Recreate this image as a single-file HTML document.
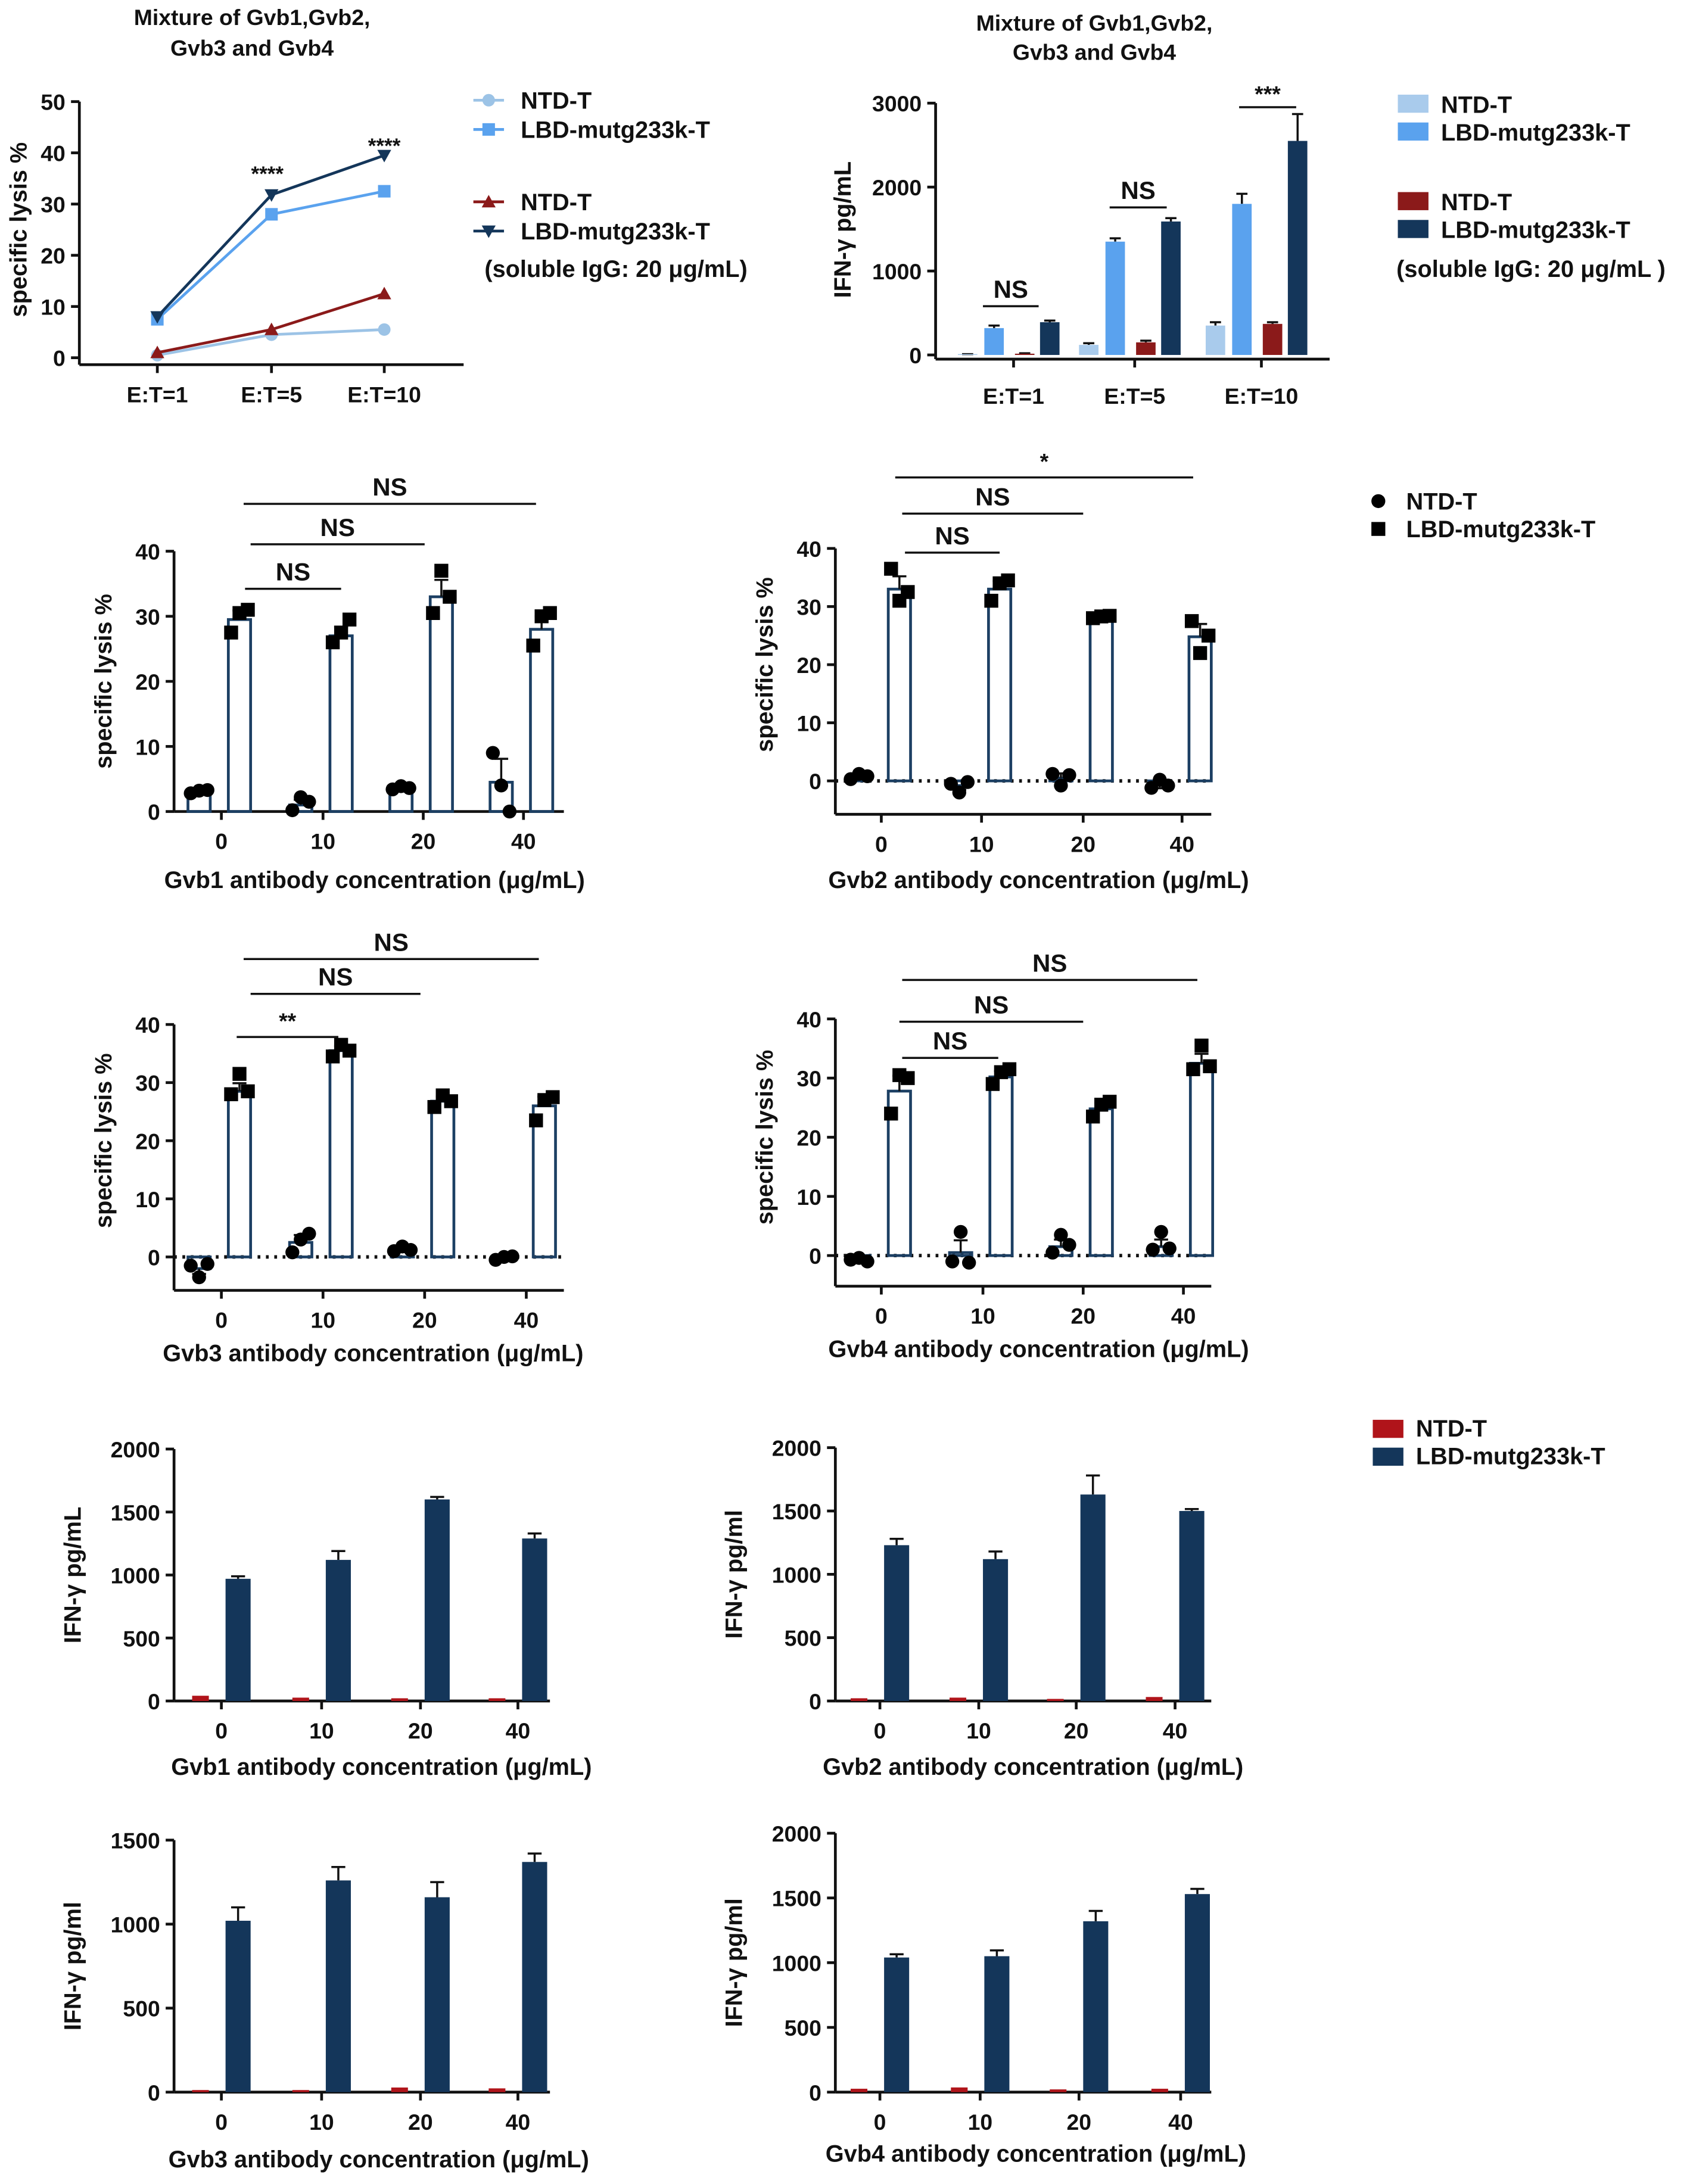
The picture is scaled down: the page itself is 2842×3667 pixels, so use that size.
<!DOCTYPE html>
<html><head><meta charset="utf-8"><style>
html,body{margin:0;padding:0;background:#fff}
svg{display:block}
text{font-family:"Liberation Sans",Arial,sans-serif;font-weight:bold;fill:#111}
</style></head><body>
<svg id="fig" width="2842" height="3667" viewBox="0 0 1216 1569" xmlns="http://www.w3.org/2000/svg"></svg>
<script>
// ---- Panel A: line chart data ----
const aCats = ['E:T=1','E:T=5','E:T=10'];
const aNtd = [0.5, 4.5, 5.5];
const aLbd = [7.5, 28, 32.5];
const aNtdIgG = [1, 5.5, 12.5];
const aLbdIgG = [8, 31.8, 39.5];
const aTicks = [0,10,20,30,40,50];
// ---- Panel B: bar chart data ----
const bCats = ['E:T=1','E:T=5','E:T=10'];
const bNtd = [10, 120, 350];
const bLbd = [320, 1350, 1800];
const bNtdIgG = [15, 150, 370];
const bLbdIgG = [390, 1590, 2550];
const bErrNtd = [0, 20, 40];
const bErrLbd = [30, 40, 120];
const bErrNtdIgG = [5, 20, 20];
const bErrLbdIgG = [20, 40, 320];
const bTicks = [0,1000,2000,3000];
// ---- Scatter bar panels ----
const sCats = ['0','10','20','40'];
const sTicks = [0,10,20,30,40];
const c1Ntd = [3, 1, 3.5, 4.5];
const c1Lbd = [29.5, 27, 33, 28];
const c1NtdPts = [[2.8,3.2,3.3],[0.2,2.2,1.5],[3.4,3.9,3.6],[9,4,0]];
const c1LbdPts = [[27.5,30.5,31],[26,27.5,29.5],[30.5,37,33],[25.5,30,30.5]];
const c2Ntd = [0.8, -0.8, 0.5, -0.7];
const c2Lbd = [33, 33, 28.3, 24.8];
const c2NtdPts = [[0.3,1.2,0.8],[-0.5,-2,-0.2],[1.2,-0.8,1],[-1.2,0.2,-0.8]];
const c2LbdPts = [[36.5,31,32.5],[31,34,34.5],[28,28.3,28.4],[27.5,22,25]];
const c3Ntd = [-2, 2.5, 1, -0.2];
const c3Lbd = [28.5, 35.5, 26.8, 26];
const c3NtdPts = [[-1.5,-3.5,-1.2],[0.8,3,4],[1,1.8,1.2],[-0.5,0,0.1]];
const c3LbdPts = [[28,31.5,28.5],[34.5,36.5,35.5],[25.8,27.8,26.8],[23.5,27,27.5]];
const c4Ntd = [-0.8, 0.5, 1.5, 1.5];
const c4Lbd = [27.8, 30.2, 24.8, 32.5];
const c4NtdPts = [[-0.7,-0.4,-1],[-1,4,-1.2],[0.5,3.5,1.8],[1,4,1.2]];
const c4LbdPts = [[24,30.5,30],[29,31,31.5],[23.5,25.5,26],[31.5,35.5,32]];
// ---- IFN panels ----
const dNtd1 = [25, 10, 5, 5];
const dLbd1 = [970, 1120, 1600, 1290];
const dErr1 = [20, 70, 20, 40];
const dNtd2 = [5, 10, 0, 15];
const dLbd2 = [1230, 1120, 1630, 1500];
const dErr2 = [50, 60, 150, 15];
const dNtd3 = [0, 0, 15, 10];
const dLbd3 = [1020, 1260, 1160, 1370];
const dErr3 = [80, 80, 90, 50];
const dNtd4 = [10, 20, 5, 10];
const dLbd4 = [1040, 1050, 1320, 1530];
const dErr4 = [25, 45, 80, 40];
const dTicks2000 = [0,500,1000,1500,2000];
const dTicks1500 = [0,500,1000,1500];

const NS='http://www.w3.org/2000/svg';
const svg=document.getElementById('fig');
function mk(tag, attrs, parent){const e=document.createElementNS(NS,tag);for(const k in attrs)e.setAttribute(k,attrs[k]);(parent||svg).appendChild(e);return e;}
function txt(x,y,s,size,anchor,parent,rot){const t=mk('text',{x:x,y:y,'font-size':size,'text-anchor':anchor||'middle'},parent);if(rot)t.setAttribute('transform','rotate(-90 '+x+' '+y+')');t.textContent=s;return t;}
const AX='#111';
function yAxis(g,x,ticks,fy,yBottom){
  const top=fy(ticks[ticks.length-1]);
  const l=mk('line',{x1:x,y1:top,x2:x,y2:yBottom,stroke:AX,'stroke-width':2},g);
  
  
  ticks.forEach(v=>{const y=fy(v);mk('line',{x1:x-6,y1:y,x2:x,y2:y,stroke:AX,'stroke-width':2},g);
    const t=txt(x-10,y+6,String(v),16,'end',g);
    
    });
}
function xAxis(g,x1,x2,y,cats,fx,labY){
  const l=mk('line',{x1:x1,y1:y,x2:x2,y2:y,stroke:AX,'stroke-width':2},g);
  
  
  cats.forEach((c,i)=>{const x=fx(i);mk('line',{x1:x,y1:y,x2:x,y2:y+6,stroke:AX,'stroke-width':2},g);
    const t=txt(x,labY,c,16,'middle',g);
    
    });
}
function grp(name){const g=mk('g',{});return g;}
function errBar(g,x,yTop,yErr,w){mk('line',{x1:x,y1:yTop,x2:x,y2:yErr,stroke:AX,'stroke-width':1.5},g);mk('line',{x1:x-w,y1:yErr,x2:x+w,y2:yErr,stroke:AX,'stroke-width':1.5},g);}
function sig(g,x1,x2,y,label,ty){const l=mk('line',{x1:x1,y1:y,x2:x2,y2:y,stroke:AX,'stroke-width':1.5},g);
  
  
  const t=txt((x1+x2)/2,ty,label,label==='NS'?18:16,'middle',g);
  
  }

// ===== Panel A =====
(function(){
  const g=grp('panel-a-lysis-line-chart');
  const fy=v=>257-v*3.68; const fx=i=>[113,195,276][i];
  txt(181,18,'Mixture of Gvb1,Gvb2,',16,'middle',g);
  txt(181,40,'Gvb3 and Gvb4',16,'middle',g);
  yAxis(g,57,aTicks,fy,262);
  xAxis(g,57,333,262,aCats,fx,289);
  const yl=txt(19,165,'specific lysis %',17,'middle',g,true);
  
  
  const series=[[aNtd,'#9cc3e6','circle'],[aLbd,'#5aa2ee','square'],[aNtdIgG,'#8b1a1a','tri'],[aLbdIgG,'#14365a','tridown']];
  series.forEach(s=>{
    const pts=s[0].map((v,i)=>fx(i)+','+fy(v)).join(' ');
    const pl=mk('polyline',{points:pts,fill:'none',stroke:s[1],'stroke-width':2},g);
    
    
    s[0].forEach((v,i)=>{const x=fx(i),y=fy(v);let m;
      if(s[2]==='circle')m=mk('circle',{cx:x,cy:y,r:4.5,fill:s[1]},g);
      else if(s[2]==='square')m=mk('rect',{x:x-4.5,y:y-4.5,width:9,height:9,fill:s[1]},g);
      else if(s[2]==='tri')m=mk('polygon',{points:`${x},${y-5} ${x-5},${y+4} ${x+5},${y+4}`,fill:s[1]},g);
      else m=mk('polygon',{points:`${x},${y+5} ${x-5},${y-4} ${x+5},${y-4}`,fill:s[1]},g);
      
      });
  });
  txt(192,130,'****',15,'middle',g);txt(276,110,'****',15,'middle',g);
  const lg=grp('legend-a');
  mk('line',{x1:340,y1:72,x2:362,y2:72,stroke:'#9cc3e6','stroke-width':2},lg);mk('circle',{cx:351,cy:72,r:4.5,fill:'#9cc3e6'},lg);
  mk('line',{x1:340,y1:93,x2:362,y2:93,stroke:'#5aa2ee','stroke-width':2},lg);mk('rect',{x:346.5,y:88.5,width:9,height:9,fill:'#5aa2ee'},lg);
  mk('line',{x1:340,y1:145,x2:362,y2:145,stroke:'#8b1a1a','stroke-width':2},lg);mk('polygon',{points:'351,140 346,149 356,149',fill:'#8b1a1a'},lg);
  mk('line',{x1:340,y1:166,x2:362,y2:166,stroke:'#14365a','stroke-width':2},lg);mk('polygon',{points:'351,171 346,162 356,162',fill:'#14365a'},lg);
  txt(374,78,'NTD-T',17,'start',lg);txt(374,99,'LBD-mutg233k-T',17,'start',lg);
  txt(374,151,'NTD-T',17,'start',lg);txt(374,172,'LBD-mutg233k-T',17,'start',lg);
  txt(348,199,'(soluble IgG: 20 μg/mL)',17,'start',lg);
})();

// ===== Panel B =====
(function(){
  const g=grp('panel-b-ifn-bar-chart');
  const fy=v=>255-v*0.0603; const fx=i=>[728,815,906][i];
  txt(786,22,'Mixture of Gvb1,Gvb2,',16,'middle',g);
  txt(786,43,'Gvb3 and Gvb4',16,'middle',g);
  yAxis(g,672,bTicks,fy,258);
  xAxis(g,672,955,258,bCats,fx,290);
  const yl=txt(611,165,'IFN-γ pg/mL',17,'middle',g,true);
  
  
  const series=[bNtd,bLbd,bNtdIgG,bLbdIgG];
  const errs=[bErrNtd,bErrLbd,bErrNtdIgG,bErrLbdIgG];
  const cols=['#a9cbec','#5aa2ee','#8b1a1a','#14365a'];const offs=[-40,-21,1,19];
  series.forEach((s,si)=>s.forEach((v,i)=>{const x=fx(i)+offs[si];const y=fy(v);
    errBar(g,x+7,y,fy(v+errs[si][i]),4);
    const r=mk('rect',{x:x,y:y,width:14,height:fy(0)-y,fill:cols[si]},g);
    
    }));
  sig(g,706,746,220,'NS',214);sig(g,797,838,149,'NS',143);sig(g,890,931,77,'***',73);
  const lg=grp('legend-b');
  [[75,'#a9cbec','NTD-T'],[95,'#5aa2ee','LBD-mutg233k-T'],[145,'#8b1a1a','NTD-T'],[165,'#14365a','LBD-mutg233k-T']].forEach(e=>{
    mk('rect',{x:1004,y:e[0]-7,width:22,height:13,fill:e[1]},lg);txt(1035,e[0]+6,e[2],17,'start',lg);});
  txt(1003,199,'(soluble IgG: 20 μg/mL )',17,'start',lg);
})();

// ===== Scatter-bar panels =====
function scatterPanel(name,cfg,ntd,lbd,ntdPts,lbdPts,sigs){
  const g=grp(name);
  const fy=v=>cfg.y0-v*cfg.k; const fx=i=>cfg.cats[i];
  yAxis(g,cfg.ax,sTicks,fy,cfg.axB);
  xAxis(g,cfg.ax,cfg.ax+cfg.w,cfg.axB,sCats,fx,cfg.axB+27);
  const yl=txt(cfg.ax-45,(fy(40)+fy(0))/2,'specific lysis %',17,'middle',g,true);
  
  
  const xl=txt(cfg.xlx,cfg.xly,cfg.xlab,17,'middle',g);
  
  
  if(cfg.dotted){const d=mk('line',{x1:cfg.ax,y1:fy(0),x2:cfg.ax+cfg.w,y2:fy(0),stroke:AX,'stroke-width':2.5,'stroke-dasharray':'2,4'},g);
    
    }
  [[ntd,-16,ntdPts,'c'],[lbd,13,lbdPts,'s']].forEach(s=>{
    s[0].forEach((v,i)=>{const cx=fx(i)+s[1];const y=fy(v);const y0=fy(0);
      const b=mk('rect',{x:cx-8,y:Math.min(y,y0),width:16,height:Math.abs(y0-y),fill:'none',stroke:'#1c3f63','stroke-width':2},g);
      
      
      const pv=s[2][i];const sd=Math.abs(Math.max(...pv)-Math.min(...pv))/2.5;
      errBar(g,cx,y,fy(v+(v>=0?sd:-sd)),5);
      pv.forEach((p,j)=>{const px=cx+(j-1)*6,py=fy(p);let m;
        if(s[3]==='c')m=mk('circle',{cx:px,cy:py,r:5,fill:'#000'},g);
        else m=mk('rect',{x:px-5,y:py-5,width:10,height:10,fill:'#000'},g);
        
        });
    });
  });
  sigs.forEach(s=>sig(g,s[0],s[1],s[2],s[3],s[2]-6));
}
scatterPanel('panel-c1-gvb1-lysis',{ax:125,y0:583,k:4.675,axB:583,w:280,cats:[159,232,304,376],xlab:'Gvb1 antibody concentration (μg/mL)',xlx:269,xly:638,dotted:false},
  c1Ntd,c1Lbd,c1NtdPts,c1LbdPts,[[176,245,423,'NS'],[180,305,391,'NS'],[175,385,362,'NS']]);
scatterPanel('panel-c2-gvb2-lysis',{ax:600,y0:561,k:4.175,axB:585,w:270,cats:[633,705,778,849],xlab:'Gvb2 antibody concentration (μg/mL)',xlx:746,xly:638,dotted:true},
  c2Ntd,c2Lbd,c2NtdPts,c2LbdPts,[[650,718,397,'NS'],[648,778,369,'NS'],[643,857,343,'*']]);
scatterPanel('panel-c3-gvb3-lysis',{ax:125,y0:903,k:4.175,axB:927,w:280,cats:[159,232,305,378],xlab:'Gvb3 antibody concentration (μg/mL)',xlx:268,xly:978,dotted:true},
  c3Ntd,c3Lbd,c3NtdPts,c3LbdPts,[[170,243,745,'**'],[180,302,714,'NS'],[175,387,689,'NS']]);
scatterPanel('panel-c4-gvb4-lysis',{ax:600,y0:902,k:4.25,axB:924,w:270,cats:[633,706,778,850],xlab:'Gvb4 antibody concentration (μg/mL)',xlx:746,xly:975,dotted:true},
  c4Ntd,c4Lbd,c4NtdPts,c4LbdPts,[[648,717,760,'NS'],[646,778,734,'NS'],[648,860,704,'NS']]);
(function(){const lg=grp('legend-c');
  mk('circle',{cx:990,cy:360,r:5,fill:'#000'},lg);txt(1010,366,'NTD-T',17,'start',lg);
  mk('rect',{x:985,y:375,width:10,height:10,fill:'#000'},lg);txt(1010,386,'LBD-mutg233k-T',17,'start',lg);})();

// ===== IFN panels =====
function ifnPanel(name,cfg,ntd,lbd,err,ticks){
  const g=grp(name);
  const fy=v=>cfg.y0-v*cfg.k; const fx=i=>cfg.cats[i];
  yAxis(g,cfg.ax,ticks,fy,cfg.y0);
  xAxis(g,cfg.ax,cfg.ax+270,cfg.y0,sCats,fx,cfg.y0+27);
  const yl=txt(cfg.ax-67,(fy(ticks[ticks.length-1])+cfg.y0)/2,cfg.ylab,17,'middle',g,true);
  
  
  const xl=txt(cfg.xlx,cfg.xly,cfg.xlab,17,'middle',g);
  
  
  ntd.forEach((v,i)=>{const x=fx(i)-21,y=fy(v);const r=mk('rect',{x:x,y:y-1.5,width:12,height:cfg.y0-y+1.5,fill:'#b0141a'},g);
    
    });
  lbd.forEach((v,i)=>{const x=fx(i)+3,y=fy(v);errBar(g,x+9,y,fy(v+err[i]),5);
    const r=mk('rect',{x:x,y:y,width:18,height:cfg.y0-y,fill:'#14365a'},g);
    
    });
}
ifnPanel('panel-d1-gvb1-ifn',{ax:125,y0:1222,k:0.0905,cats:[159,231,302,372],ylab:'IFN-γ pg/mL',xlab:'Gvb1 antibody concentration (μg/mL)',xlx:274,xly:1275},dNtd1,dLbd1,dErr1,dTicks2000);
ifnPanel('panel-d2-gvb2-ifn',{ax:600,y0:1222,k:0.091,cats:[632,703,773,844],ylab:'IFN-γ pg/ml',xlab:'Gvb2 antibody concentration (μg/mL)',xlx:742,xly:1275},dNtd2,dLbd2,dErr2,dTicks2000);
ifnPanel('panel-d3-gvb3-ifn',{ax:125,y0:1503,k:0.1207,cats:[159,231,302,372],ylab:'IFN-γ pg/ml',xlab:'Gvb3 antibody concentration (μg/mL)',xlx:272,xly:1557},dNtd3,dLbd3,dErr3,dTicks1500);
ifnPanel('panel-d4-gvb4-ifn',{ax:600,y0:1503,k:0.093,cats:[632,704,775,848],ylab:'IFN-γ pg/ml',xlab:'Gvb4 antibody concentration (μg/mL)',xlx:744,xly:1553},dNtd4,dLbd4,dErr4,dTicks2000);
(function(){const lg=grp('legend-d');
  mk('rect',{x:986,y:1020,width:22,height:13,fill:'#b0141a'},lg);txt(1017,1032,'NTD-T',17,'start',lg);
  mk('rect',{x:986,y:1040,width:22,height:13,fill:'#14365a'},lg);txt(1017,1052,'LBD-mutg233k-T',17,'start',lg);})();
</script>
</body></html>
